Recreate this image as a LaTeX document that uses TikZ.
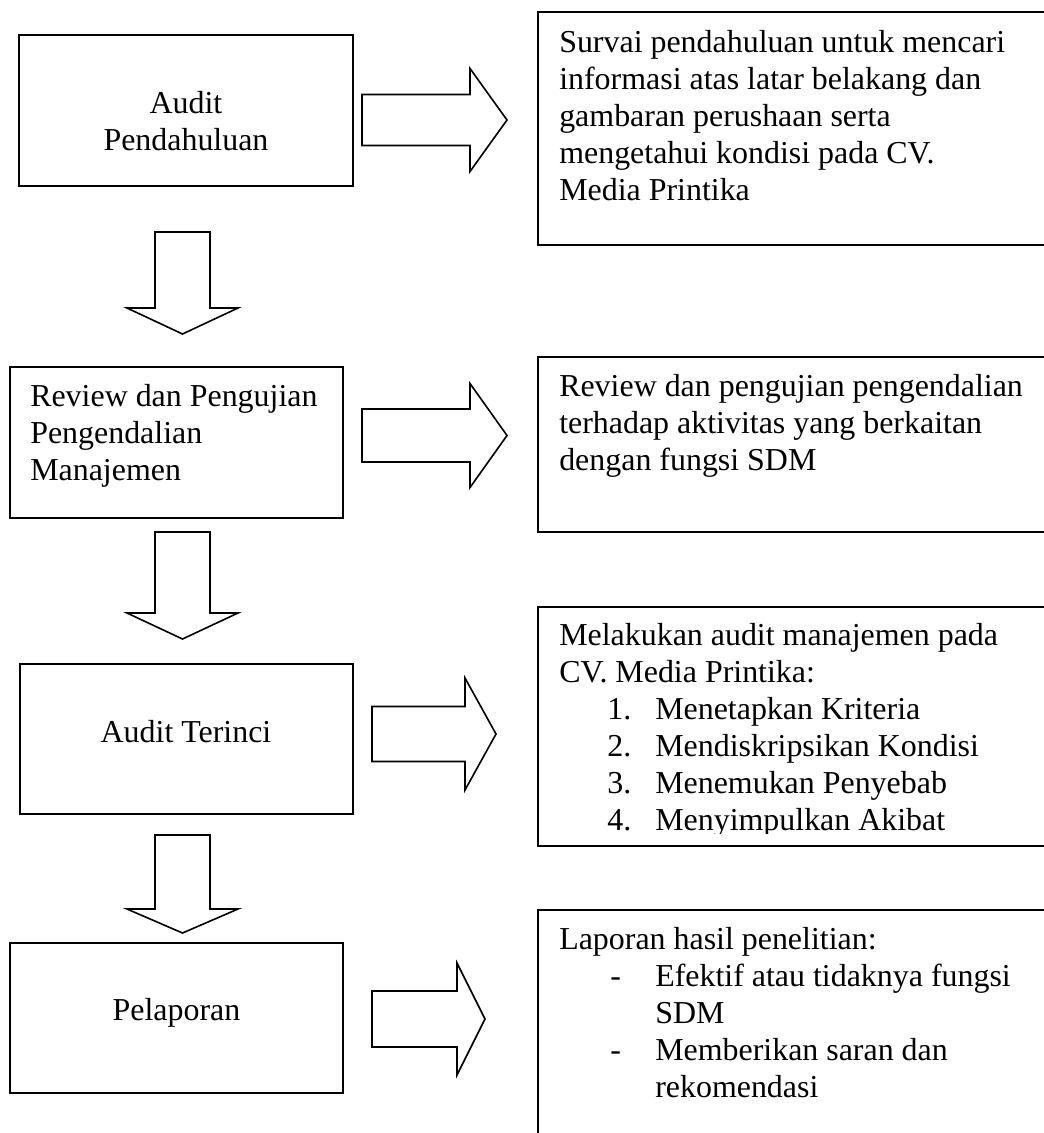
\documentclass[tikz,border=0pt]{standalone}
\usepackage{fontspec}
\setmainfont{Liberation Serif}

\tikzset{
  kotak/.style={line width=1.4pt},
  panah/.style={line width=1.15pt, line join=miter},
  teks/.style={inner sep=0pt, font=\fontsize{22.7}{26.3}\selectfont, align=left}
}
% block arrows: x start, x head, x tip, y centre, half shaft, half head
\newcommand{\panahkanan}[6]{\draw[panah] (#1,#4-#5) -- (#2,#4-#5) -- (#2,#4-#6) -- (#3,#4) -- (#2,#4+#6) -- (#2,#4+#5) -- (#1,#4+#5) -- cycle;}
% y top, y head, y tip
\newcommand{\panahbawah}[3]{\draw[panah] (155,#1) -- (210,#1) -- (210,#2) -- (238,#2) -- (182.5,#3) -- (127,#2) -- (155,#2) -- cycle;}

\begin{document}
\begin{tikzpicture}[x=0.025cm,y=-0.025cm]
\useasboundingbox (0,0) rectangle (1044,1133);
\clip (0,0) rectangle (1044,1133);

% left column (base = baseline of last line)
\draw[kotak] (19,35) rectangle (353,186); \node[teks, align=center, anchor=base] (audit) at (186,150) {Audit\\Pendahuluan};
\draw[kotak] (10,367) rectangle (343,518); \node[teks, anchor=base west] (review) at (30,480) {Review dan Pengujian\\Pengendalian\\Manajemen};
\draw[kotak] (20,664) rectangle (353,814); \node[teks, anchor=base] (terinci) at (186,742) {Audit Terinci};
\draw[kotak] (10,943) rectangle (343,1093); \node[teks, anchor=base] (lapor) at (176.5,1020) {Pelaporan};

\panahbawah{232}{308}{334}
\panahbawah{532}{613}{639}
\panahbawah{835}{909}{933}

\panahkanan{362}{470}{507}{120}{25.5}{51.5}
\panahkanan{362}{470}{507}{435.5}{26.5}{52}
\panahkanan{372}{465}{496}{734}{27.5}{56}
\panahkanan{372}{457}{485}{1019}{28}{56}

% right column
\draw[kotak] (538,12) rectangle (1060,245);
\node[teks, anchor=base west] (ket1) at (559,200) {Survai pendahuluan untuk mencari\\informasi atas latar belakang dan\\gambaran perushaan serta\\mengetahui kondisi pada CV.\\Media Printika};
\draw[kotak] (538,357) rectangle (1060,532);
\node[teks, anchor=base west] (ket2) at (559,470) {Review dan pengujian pengendalian\\terhadap aktivitas yang berkaitan\\dengan fungsi SDM};
\draw[kotak] (538,607) rectangle (1060,846);
\begin{scope}
  \clip (540,609) rectangle (1044,833);
  \node[teks, anchor=base west] (ket3) at (559,830) {Melakukan audit manajemen pada\\CV. Media Printika:\\
    \hspace*{1.2cm}\makebox[1.2cm][l]{1.}Menetapkan Kriteria\\
    \hspace*{1.2cm}\makebox[1.2cm][l]{2.}Mendiskripsikan Kondisi\\
    \hspace*{1.2cm}\makebox[1.2cm][l]{3.}Menemukan Penyebab\\
    \hspace*{1.2cm}\makebox[1.2cm][l]{4.}Menyimpulkan Akibat};
\end{scope}
\draw[kotak] (538,910) rectangle (1060,1150);
\node[teks, anchor=base west] (ket4) at (559,1097) {Laporan hasil penelitian:\\
  \hspace*{1.275cm}\makebox[1.125cm][l]{-}Efektif atau tidaknya fungsi\\
  \hspace*{2.4cm}SDM\\
  \hspace*{1.275cm}\makebox[1.125cm][l]{-}Memberikan saran dan\\
  \hspace*{2.4cm}rekomendasi};
\end{tikzpicture}
\end{document}
